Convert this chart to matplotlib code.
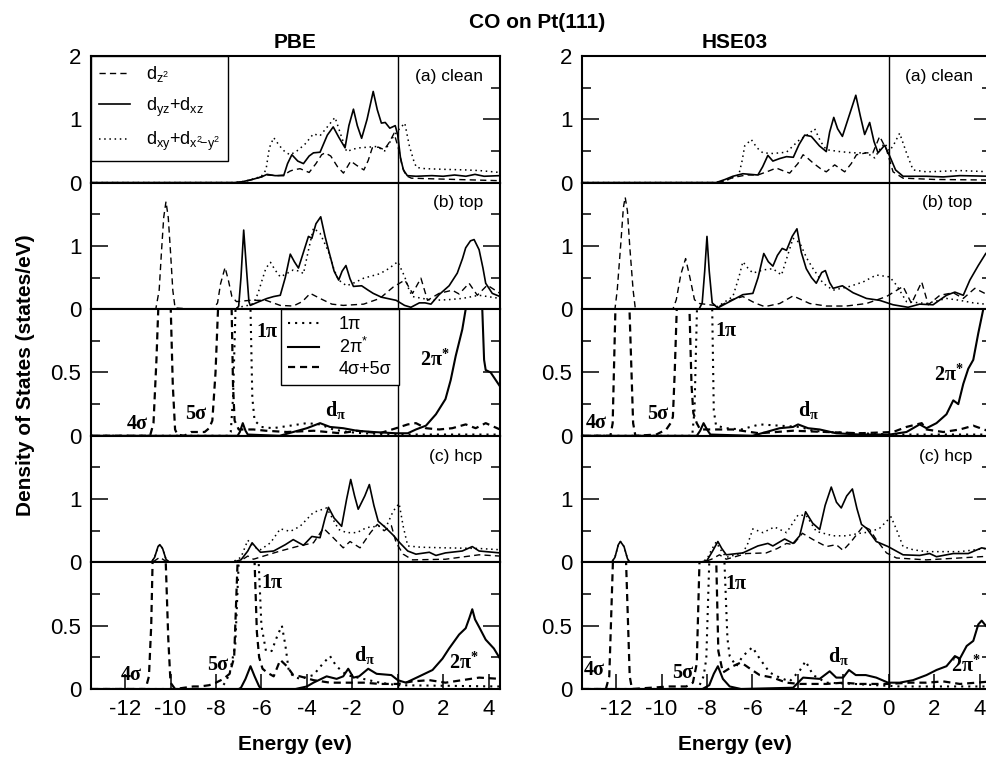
import matplotlib
matplotlib.use('Agg')
import matplotlib.pyplot as plt
from matplotlib.ticker import MultipleLocator

plt.rcParams['font.family'] = ['Liberation Sans', 'DejaVu Sans']
plt.rcParams['mathtext.fontset'] = 'custom'
plt.rcParams['mathtext.rm'] = 'Liberation Sans'
plt.rcParams['mathtext.it'] = 'Liberation Sans:italic'
plt.rcParams['mathtext.bf'] = 'Liberation Serif:bold'

# ---------------- data (energy eV, DOS) ----------------
PBE_A_DZ2 = [(-13.5,0),(-7.2,0),(-6.9,0.01),(-6.5,0.04),(-6.0,0.09),(-5.75,0.12),(-5.3,0.11),(-5.0,0.12),(-4.75,0.18),(-4.6,0.2),(-4.3,0.22),(-3.9,0.16),(-3.6,0.3),(-3.35,0.44),(-3.2,0.47),(-2.95,0.42),(-2.65,0.25),(-2.39,0.15),(-2.2,0.26),(-2.07,0.34),(-1.8,0.27),(-1.49,0.2),(-1.3,0.35),(-1.12,0.55),(-0.85,0.56),(-0.6,0.52),(-0.4,0.62),(-0.16,0.78),(0.06,0.5),(0.2,0.25),(0.36,0.11),(0.6,0.07),(1.5,0.06),(2.5,0.05),(3.5,0.04),(4.5,0.03)]
PBE_A_DYZ = [(-13.5,0),(-7.2,0),(-6.9,0.01),(-6.5,0.04),(-6.0,0.09),(-5.75,0.13),(-5.4,0.11),(-5.02,0.11),(-4.85,0.3),(-4.66,0.44),(-4.4,0.34),(-4.15,0.3),(-3.9,0.42),(-3.71,0.47),(-3.42,0.48),(-3.1,0.75),(-2.84,0.88),(-2.6,0.72),(-2.32,0.55),(-2.15,0.9),(-1.95,1.16),(-1.78,0.9),(-1.59,0.7),(-1.35,1.0),(-1.08,1.44),(-0.9,1.15),(-0.72,0.94),(-0.55,0.95),(-0.35,0.86),(-0.11,0.9),(0.0,0.75),(0.12,0.39),(0.25,0.2),(0.42,0.11),(0.8,0.1),(1.5,0.11),(2.0,0.1),(2.5,0.12),(3.0,0.1),(3.4,0.13),(3.8,0.1),(4.5,0.11)]
PBE_A_DXY = [(-13.5,0),(-7.2,0),(-6.9,0.01),(-6.5,0.04),(-6.0,0.1),(-5.8,0.2),(-5.65,0.55),(-5.46,0.71),(-5.2,0.58),(-4.95,0.48),(-4.73,0.44),(-4.44,0.5),(-4.1,0.6),(-3.71,0.77),(-3.42,0.74),(-3.1,0.88),(-2.76,1.03),(-2.5,0.75),(-2.25,0.49),(-1.95,0.53),(-1.66,0.55),(-1.3,0.56),(-0.93,0.57),(-0.57,0.5),(-0.28,0.68),(0.0,0.82),(0.31,0.94),(0.51,0.58),(0.7,0.35),(0.82,0.24),(1.2,0.22),(2.0,0.21),(3.0,0.2),(3.6,0.19),(4.5,0.16)]

PBE_B_DZ2 = [(-13.5,0),(-10.65,0),(-10.5,0.3),(-10.4,0.9),(-10.3,1.45),(-10.2,1.7),(-10.1,1.45),(-10.0,0.9),(-9.9,0.3),(-9.8,0.02),(-9.0,0),(-8.1,0.01),(-7.93,0.1),(-7.8,0.4),(-7.6,0.66),(-7.45,0.45),(-7.3,0.2),(-7.1,0.12),(-6.5,0.14),(-5.8,0.14),(-5.17,0.06),(-4.6,0.05),(-4.2,0.12),(-3.85,0.25),(-3.42,0.17),(-2.9,0.08),(-2.4,0.06),(-1.5,0.08),(-0.79,0.17),(-0.2,0.35),(0.31,0.46),(0.65,0.25),(1.02,0.49),(1.31,0.14),(1.82,0.25),(2.4,0.3),(2.7,0.24),(3.14,0.41),(3.5,0.22),(3.94,0.38),(4.5,0.25)]
PBE_B_DYZ = [(-13.5,0),(-7.1,0),(-7.0,0.05),(-6.9,0.5),(-6.78,1.25),(-6.65,0.6),(-6.55,0.12),(-6.49,0.06),(-6.1,0.12),(-5.75,0.17),(-5.46,0.2),(-5.17,0.22),(-4.95,0.5),(-4.73,0.87),(-4.55,0.75),(-4.37,0.65),(-4.15,0.9),(-3.93,1.15),(-3.78,1.12),(-3.6,1.35),(-3.39,1.46),(-3.2,1.15),(-3.05,0.94),(-2.8,0.6),(-2.6,0.46),(-2.45,0.6),(-2.28,0.69),(-2.1,0.48),(-1.95,0.36),(-1.59,0.37),(-1.3,0.3),(-1.08,0.25),(-0.72,0.19),(-0.07,0.14),(0.3,0.06),(0.58,0.03),(0.95,0.1),(1.2,0.1),(1.46,0.08),(1.82,0.23),(2.26,0.37),(2.62,0.57),(2.85,0.8),(2.99,0.97),(3.2,1.08),(3.36,1.1),(3.58,0.94),(3.75,0.65),(3.87,0.41),(4.16,0.25),(4.5,0.2)]
PBE_B_DXY = [(-13.5,0),(-7.3,0),(-7.0,0.03),(-6.6,0.06),(-6.35,0.09),(-6.15,0.25),(-5.97,0.46),(-5.8,0.65),(-5.6,0.74),(-5.4,0.62),(-5.17,0.51),(-4.9,0.56),(-4.6,0.62),(-4.3,0.6),(-4.15,0.56),(-3.95,0.9),(-3.71,1.28),(-3.42,1.2),(-3.05,0.91),(-2.8,0.62),(-2.6,0.46),(-2.25,0.37),(-1.9,0.42),(-1.5,0.49),(-0.79,0.56),(-0.4,0.64),(0.0,0.75),(0.31,0.51),(0.5,0.3),(0.65,0.2),(1.53,0.14),(2.2,0.15),(2.84,0.17),(3.58,0.22),(4.5,0.17)]

PBE_BC_SIG = [(-13.5,0),(-10.9,0),(-10.75,0.1),(-10.62,0.6),(-10.54,1.0),(-10.42,2.0),(-10.27,2.6),(-10.12,2.0),(-9.99,1.0),(-9.9,0.4),(-9.8,0.05),(-9.7,0.01),(-9.4,0.0),(-9.1,0.03),(-8.5,0.03),(-8.3,0.06),(-8.16,0.12),(-8.02,0.5),(-7.91,1.0),(-7.77,2.0),(-7.6,2.3),(-7.45,2.0),(-7.31,1.0),(-7.25,0.4),(-7.18,0.12),(-7.0,0.05),(-6.35,0.05),(-5.8,0.04),(-4.88,0.03),(-3.7,0.04),(-2.52,0.02),(-1.8,0.04),(-0.8,0.02),(-0.07,0.06),(0.44,0.09),(0.8,0.1),(1.24,0.06),(1.82,0.05),(2.4,0.06),(2.99,0.09),(3.43,0.06),(3.87,0.1),(4.5,0.05)]
PBE_BC_1PI = [(-13.5,0),(-7.45,0),(-7.35,0.03),(-7.25,0.3),(-7.14,1.0),(-6.98,2.0),(-6.81,2.3),(-6.64,2.0),(-6.48,1.0),(-6.4,0.3),(-6.3,0.12),(-6.0,0.07),(-5.5,0.06),(-4.73,0.08),(-4.0,0.1),(-3.42,0.09),(-2.84,0.05),(-2.2,0.03),(-1.5,0.02),(-0.07,0.01),(4.5,0.01)]
PBE_BC_2PI = [(-13.5,0),(-7.05,0),(-6.95,0.03),(-6.82,0.1),(-6.7,0.04),(-6.6,0.01),(-5.2,0.0),(-4.6,0.03),(-4.0,0.06),(-3.42,0.1),(-2.98,0.07),(-2.4,0.06),(-1.8,0.04),(-1.08,0.03),(-0.07,0.02),(0.44,0.02),(0.8,0.05),(1.24,0.08),(1.68,0.17),(2.1,0.29),(2.33,0.44),(2.55,0.63),(2.84,0.84),(2.99,1.0),(3.15,1.3),(3.35,1.6),(3.55,1.35),(3.72,1.0),(3.8,0.6),(3.87,0.52),(4.09,0.5),(4.5,0.39)]

PBE_C_DZ2 = [(-13.5,0),(-10.8,0),(-10.6,0.05),(-10.47,0.08),(-10.3,0.04),(-10.1,0),(-7.2,0),(-6.9,0.03),(-6.6,0.1),(-6.35,0.05),(-5.9,0.1),(-5.17,0.18),(-4.44,0.25),(-3.71,0.31),(-3.27,0.54),(-2.84,0.39),(-2.4,0.23),(-2.1,0.33),(-1.66,0.23),(-1.2,0.47),(-0.9,0.6),(-0.6,0.5),(-0.4,0.55),(-0.28,0.58),(-0.07,0.31),(0.24,0.13),(0.65,0.04),(2.1,0.05),(3.58,0.12),(4.5,0.1)]
PBE_C_DYZ = [(-13.5,0),(-10.85,0),(-10.7,0.08),(-10.55,0.25),(-10.47,0.28),(-10.35,0.22),(-10.2,0.05),(-10.05,0),(-7.3,0),(-6.9,0.04),(-6.6,0.18),(-6.41,0.31),(-6.2,0.22),(-6.04,0.16),(-5.46,0.18),(-4.95,0.28),(-4.6,0.36),(-4.15,0.27),(-3.78,0.41),(-3.42,0.39),(-3.2,0.7),(-3.05,0.87),(-2.8,0.7),(-2.47,0.57),(-2.25,1.0),(-2.07,1.31),(-1.9,1.05),(-1.74,0.84),(-1.45,1.05),(-1.25,1.23),(-1.05,0.9),(-0.86,0.65),(-0.57,0.56),(-0.2,0.43),(0.09,0.31),(0.44,0.18),(0.8,0.13),(1.39,0.16),(1.68,0.11),(2.1,0.15),(2.84,0.18),(3.28,0.25),(3.58,0.18),(4.5,0.15)]
PBE_C_DXY = [(-13.5,0),(-10.85,0),(-10.7,0.08),(-10.55,0.25),(-10.47,0.28),(-10.35,0.22),(-10.2,0.05),(-10.05,0),(-7.3,0),(-6.9,0.08),(-6.6,0.35),(-6.35,0.25),(-6.04,0.2),(-5.6,0.31),(-5.17,0.53),(-4.73,0.49),(-4.3,0.57),(-3.71,0.79),(-3.13,0.86),(-2.6,0.52),(-2.25,0.47),(-1.8,0.47),(-1.37,0.55),(-0.93,0.57),(-0.5,0.57),(-0.2,0.81),(0.06,0.93),(0.24,0.57),(0.44,0.26),(1.0,0.24),(2.1,0.23),(3.58,0.22),(4.5,0.2)]

PBE_CC_SIG = [(-13.5,0),(-11.1,0),(-10.95,0.1),(-10.85,0.5),(-10.79,1.0),(-10.65,2.2),(-10.5,2.6),(-10.35,2.2),(-10.21,1.0),(-10.1,0.4),(-10.0,0.05),(-9.8,0),(-9.0,0.02),(-8.7,0.02),(-8.3,0.03),(-8.0,0.05),(-7.67,0.08),(-7.4,0.12),(-7.2,0.25),(-7.05,1.0),(-6.9,2.0),(-6.65,2.4),(-6.45,2.0),(-6.3,1.0),(-6.2,0.45),(-6.1,0.25),(-5.95,0.16),(-5.75,0.13),(-5.46,0.1),(-5.17,0.23),(-4.88,0.18),(-4.6,0.11),(-4.3,0.1),(-3.71,0.07),(-2.98,0.05),(-2.25,0.05),(-1.5,0.05),(-0.79,0.04),(0.0,0.04),(0.65,0.06),(1.39,0.07),(2.1,0.05),(2.84,0.07),(3.58,0.09),(4.5,0.08)]
PBE_CC_1PI = [(-13.5,0),(-7.8,0),(-7.6,0.05),(-7.4,0.12),(-7.15,0.35),(-7.0,1.0),(-6.8,2.0),(-6.55,2.4),(-6.3,2.0),(-6.12,1.0),(-6.0,0.5),(-5.8,0.3),(-5.55,0.3),(-5.3,0.42),(-5.1,0.5),(-4.95,0.35),(-4.8,0.15),(-4.6,0.1),(-4.3,0.08),(-3.71,0.11),(-3.3,0.2),(-2.98,0.26),(-2.7,0.18),(-2.25,0.11),(-1.52,0.08),(-0.79,0.05),(0.0,0.03),(4.5,0.02)]
PBE_CC_2PI = [(-13.5,0),(-7.0,0),(-6.9,0.01),(-6.7,0.08),(-6.48,0.18),(-6.3,0.1),(-6.1,0.02),(-6.0,0.0),(-4.5,0.0),(-4.0,0.02),(-3.71,0.05),(-3.13,0.1),(-2.69,0.08),(-2.4,0.1),(-2.18,0.16),(-1.95,0.09),(-1.7,0.1),(-1.3,0.16),(-0.93,0.12),(-0.28,0.11),(0.0,0.07),(0.36,0.05),(0.95,0.1),(1.53,0.15),(1.97,0.24),(2.26,0.32),(2.7,0.43),(2.99,0.48),(3.15,0.56),(3.28,0.63),(3.4,0.55),(3.58,0.49),(3.87,0.39),(4.23,0.32),(4.5,0.24)]

HSE_A_DZ2 = [(-13.5,0),(-7.6,0),(-7.2,0.03),(-6.86,0.08),(-6.27,0.12),(-5.76,0.12),(-5.3,0.18),(-4.95,0.23),(-4.6,0.18),(-4.36,0.15),(-4.0,0.3),(-3.77,0.44),(-3.55,0.38),(-3.33,0.31),(-3.0,0.22),(-2.75,0.17),(-2.38,0.28),(-1.94,0.17),(-1.65,0.3),(-1.42,0.44),(-0.98,0.47),(-0.7,0.47),(-0.4,0.73),(-0.1,0.52),(0.19,0.17),(0.63,0.07),(2.0,0.05),(4.5,0.04)]
HSE_A_DYZ = [(-13.5,0),(-7.6,0),(-7.2,0.05),(-6.86,0.1),(-6.42,0.14),(-5.76,0.12),(-5.55,0.25),(-5.32,0.43),(-5.1,0.34),(-4.8,0.38),(-4.5,0.41),(-4.2,0.4),(-3.95,0.6),(-3.7,0.75),(-3.41,0.73),(-3.05,0.58),(-2.75,0.49),(-2.6,0.8),(-2.42,1.03),(-2.25,0.85),(-2.04,0.73),(-1.75,1.05),(-1.45,1.38),(-1.25,1.05),(-1.06,0.76),(-0.84,0.95),(-0.65,0.65),(-0.47,0.47),(-0.18,0.59),(0.04,0.42),(0.3,0.2),(0.63,0.1),(1.66,0.1),(2.4,0.09),(3.13,0.11),(4.5,0.1)]
HSE_A_DXY = [(-13.5,0),(-7.6,0),(-7.2,0.03),(-6.86,0.08),(-6.6,0.12),(-6.45,0.35),(-6.34,0.58),(-6.05,0.68),(-5.8,0.55),(-5.54,0.47),(-5.1,0.46),(-4.5,0.48),(-3.92,0.68),(-3.6,0.75),(-3.26,0.85),(-3.0,0.65),(-2.75,0.52),(-2.16,0.49),(-1.57,0.47),(-0.98,0.47),(-0.62,0.39),(-0.35,0.55),(-0.18,0.62),(0.04,0.5),(0.25,0.62),(0.48,0.78),(0.78,0.47),(1.07,0.2),(1.66,0.17),(3.13,0.19),(4.5,0.17)]

HSE_B_DZ2 = [(-13.5,0),(-12.05,0),(-11.95,0.3),(-11.8,1.0),(-11.68,1.6),(-11.6,1.77),(-11.5,1.55),(-11.4,1.0),(-11.25,0.3),(-11.15,0),(-9.5,0),(-9.35,0.15),(-9.15,0.55),(-8.94,0.8),(-8.75,0.5),(-8.55,0.15),(-8.33,0.09),(-7.45,0.05),(-6.9,0.15),(-6.42,0.2),(-5.9,0.1),(-5.46,0.04),(-4.8,0.09),(-4.21,0.21),(-3.48,0.09),(-2.75,0.05),(-1.87,0.05),(-0.98,0.09),(-0.1,0.2),(0.63,0.36),(1.0,0.09),(1.45,0.43),(1.74,0.07),(2.25,0.22),(2.84,0.26),(3.28,0.17),(3.79,0.33),(4.5,0.2)]
HSE_B_DYZ = [(-13.5,0),(-8.35,0),(-8.21,0.1),(-8.1,0.6),(-8.0,1.15),(-7.9,0.6),(-7.77,0.1),(-7.53,0.02),(-7.0,0.12),(-6.42,0.23),(-5.98,0.25),(-5.75,0.5),(-5.5,0.88),(-5.3,0.75),(-5.1,0.68),(-4.9,0.85),(-4.69,0.96),(-4.5,0.93),(-4.25,1.15),(-4.04,1.27),(-3.85,0.9),(-3.63,0.64),(-3.4,0.5),(-3.19,0.41),(-2.95,0.58),(-2.79,0.61),(-2.6,0.42),(-2.45,0.33),(-2.04,0.37),(-1.57,0.26),(-0.98,0.17),(-0.4,0.14),(0.19,0.07),(0.85,0.03),(1.36,0.08),(1.95,0.07),(2.54,0.22),(2.91,0.27),(3.28,0.22),(3.57,0.46),(3.94,0.69),(4.27,0.88),(4.5,0.95)]
HSE_B_DXY = [(-13.5,0),(-7.8,0),(-7.45,0.06),(-6.86,0.2),(-6.6,0.5),(-6.42,0.75),(-6.2,0.65),(-5.98,0.57),(-5.54,0.62),(-5.1,0.64),(-4.72,0.54),(-4.45,0.85),(-4.21,1.12),(-3.92,1.05),(-3.6,0.8),(-3.33,0.64),(-2.89,0.41),(-2.45,0.3),(-1.72,0.36),(-1.13,0.43),(-0.55,0.54),(0.04,0.51),(0.34,0.38),(0.78,0.12),(1.66,0.09),(2.54,0.17),(3.13,0.14),(3.72,0.1),(4.5,0.07)]

HSE_BC_SIG = [(-13.5,0),(-12.25,0),(-12.15,0.1),(-12.03,1.0),(-11.9,2.2),(-11.72,2.6),(-11.55,2.2),(-11.41,1.0),(-11.25,0.1),(-11.15,0),(-10.23,0.01),(-9.79,0.05),(-9.6,0.1),(-9.5,0.15),(-9.42,0.5),(-9.33,1.0),(-9.17,2.0),(-9.05,2.3),(-8.92,2.0),(-8.77,1.0),(-8.68,0.4),(-8.6,0.18),(-8.45,0.1),(-8.3,0.05),(-7.73,0.05),(-6.86,0.05),(-5.7,0.02),(-4.21,0.04),(-2.75,0.03),(-1.28,0.02),(0.19,0.03),(0.78,0.07),(1.45,0.1),(1.66,0.05),(2.4,0.03),(3.13,0.05),(3.72,0.08),(4.5,0.03)]
HSE_BC_1PI = [(-13.5,0),(-8.65,0),(-8.55,0.2),(-8.44,1.0),(-8.27,2.0),(-8.1,2.3),(-7.93,2.0),(-7.77,1.0),(-7.7,0.2),(-7.6,0.08),(-7.15,0.06),(-6.5,0.05),(-5.68,0.09),(-4.8,0.08),(-3.92,0.07),(-3.33,0.04),(-2.75,0.03),(-1.28,0.02),(0.19,0.01),(4.5,0.01)]
HSE_BC_2PI = [(-13.5,0),(-8.45,0),(-8.3,0.04),(-8.15,0.1),(-8.0,0.05),(-7.85,0.01),(-6.0,0.0),(-5.39,0.03),(-4.8,0.06),(-4.21,0.07),(-3.99,0.09),(-3.55,0.06),(-3.04,0.05),(-2.31,0.02),(-1.28,0.01),(0.04,0.01),(0.78,0.03),(1.36,0.09),(1.66,0.06),(2.1,0.1),(2.54,0.17),(2.84,0.28),(3.06,0.25),(3.28,0.41),(3.5,0.53),(3.72,0.6),(3.94,0.81),(4.16,1.0),(4.5,1.2)]

HSE_C_DZ2 = [(-13.5,0),(-8.2,0),(-7.8,0.05),(-7.45,0.12),(-7.15,0.05),(-6.27,0.14),(-5.39,0.15),(-4.9,0.22),(-4.5,0.3),(-4.21,0.28),(-3.8,0.46),(-3.33,0.36),(-2.75,0.25),(-2.31,0.28),(-2.01,0.19),(-1.65,0.33),(-1.13,0.57),(-0.84,0.52),(-0.55,0.36),(-0.1,0.15),(0.34,0.07),(1.66,0.04),(3.13,0.07),(4.5,0.1)]
HSE_C_DYZ = [(-13.5,0),(-12.2,0),(-12.05,0.08),(-11.9,0.28),(-11.81,0.33),(-11.65,0.25),(-11.5,0.06),(-11.4,0),(-8.3,0),(-8.0,0.03),(-7.75,0.18),(-7.52,0.33),(-7.35,0.22),(-7.15,0.12),(-6.42,0.15),(-5.76,0.26),(-5.32,0.3),(-5.1,0.26),(-4.58,0.37),(-4.21,0.3),(-3.92,0.42),(-3.66,0.8),(-3.35,0.62),(-3.04,0.52),(-2.8,0.9),(-2.53,1.19),(-2.3,0.95),(-2.09,0.86),(-1.85,1.05),(-1.6,1.16),(-1.4,0.85),(-1.2,0.6),(-0.98,0.54),(-0.55,0.33),(-0.03,0.25),(0.63,0.12),(1.36,0.11),(1.8,0.14),(2.1,0.09),(2.84,0.14),(3.5,0.14),(4.09,0.23),(4.5,0.2)]
HSE_C_DXY = [(-13.5,0),(-12.2,0),(-12.05,0.08),(-11.9,0.28),(-11.81,0.33),(-11.65,0.25),(-11.5,0.06),(-11.4,0),(-8.3,0),(-8.0,0.05),(-7.8,0.2),(-7.6,0.32),(-7.4,0.2),(-7.15,0.08),(-6.42,0.15),(-6.2,0.3),(-5.98,0.53),(-5.54,0.47),(-5.03,0.56),(-4.5,0.47),(-3.99,0.75),(-3.63,0.74),(-3.19,0.49),(-2.45,0.42),(-1.87,0.42),(-1.28,0.46),(-0.84,0.48),(-0.4,0.54),(0.1,0.72),(0.34,0.52),(0.63,0.25),(1.07,0.2),(1.66,0.17),(3.13,0.17),(4.5,0.23)]

HSE_CC_SIG = [(-13.5,0),(-12.45,0),(-12.3,0.1),(-12.14,1.0),(-12.0,2.2),(-11.85,2.6),(-11.7,2.2),(-11.56,1.0),(-11.4,0.1),(-11.3,0),(-9.65,0.02),(-8.91,0.02),(-8.62,0.05),(-8.45,0.2),(-8.33,1.0),(-8.15,2.0),(-7.95,2.4),(-7.75,2.0),(-7.59,1.0),(-7.5,0.3),(-7.3,0.13),(-6.86,0.18),(-6.5,0.21),(-6.1,0.16),(-5.68,0.11),(-5.1,0.09),(-4.5,0.05),(-3.92,0.04),(-2.75,0.04),(-2.01,0.05),(-1.28,0.04),(-0.03,0.04),(0.93,0.05),(1.66,0.05),(2.4,0.06),(3.13,0.04),(3.87,0.05),(4.5,0.06)]
HSE_CC_1PI = [(-13.5,0),(-8.4,0),(-8.15,0.1),(-8.03,0.24),(-7.9,1.0),(-7.7,2.0),(-7.52,2.3),(-7.35,2.0),(-7.23,1.0),(-7.1,0.4),(-7.0,0.26),(-6.71,0.18),(-6.42,0.26),(-6.0,0.33),(-5.68,0.24),(-5.24,0.13),(-4.8,0.09),(-4.36,0.06),(-3.9,0.15),(-3.66,0.22),(-3.33,0.11),(-2.75,0.05),(-1.5,0.04),(-0.55,0.03),(0.5,0.02),(4.5,0.02)]
HSE_CC_2PI = [(-13.5,0),(-8.2,0),(-7.9,0.03),(-7.7,0.12),(-7.52,0.18),(-7.3,0.08),(-7.0,0.02),(-6.5,0.0),(-4.21,0.01),(-3.99,0.05),(-3.77,0.09),(-3.04,0.08),(-2.6,0.14),(-2.31,0.09),(-2.01,0.09),(-1.75,0.15),(-1.45,0.11),(-1.01,0.11),(-0.55,0.09),(-0.03,0.05),(0.48,0.05),(1.07,0.07),(1.66,0.11),(2.1,0.15),(2.54,0.18),(2.91,0.26),(3.13,0.24),(3.43,0.34),(3.72,0.38),(3.94,0.51),(4.09,0.54),(4.27,0.5),(4.5,0.46)]

D_LABELS = [r'$\mathrm{d_{z^2}}$', r'$\mathrm{d_{yz}{+}d_{xz}}$', r'$\mathrm{d_{xy}{+}d_{x^2\!{-}y^2}}$']
CO_LABELS = ['1π', r'$\mathrm{2\pi^{*}}$', '4σ+5σ']
PANEL_TAGS = ['(a) clean', '(b) top', None, '(c) hcp', None]
COL_TITLES = ['PBE', 'HSE03']
X_TICKS = [-12, -10, -8, -6, -4, -2, 0, 2, 4]
D_YTICKS = [0, 1, 2]
CO_YTICKS = [0, 0.5, 1]

# ---------------- figure ----------------
W, H = 986, 758
fig = plt.figure(figsize=(W / 100, H / 100), dpi=100)

COL_LEFT = [91, 582]
AX_W = 409
TOP = 56
PH = 126.6

DASH_D = (0, (4.5, 3.0))
DOT = (0, (1.0, 2.4))
DASH_CO = (0, (3.2, 2.2))

columns = [
    dict(panels=[(PBE_A_DZ2, PBE_A_DYZ, PBE_A_DXY), (PBE_B_DZ2, PBE_B_DYZ, PBE_B_DXY),
                 (PBE_BC_1PI, PBE_BC_2PI, PBE_BC_SIG),
                 (PBE_C_DZ2, PBE_C_DYZ, PBE_C_DXY), (PBE_CC_1PI, PBE_CC_2PI, PBE_CC_SIG)]),
    dict(panels=[(HSE_A_DZ2, HSE_A_DYZ, HSE_A_DXY), (HSE_B_DZ2, HSE_B_DYZ, HSE_B_DXY),
                 (HSE_BC_1PI, HSE_BC_2PI, HSE_BC_SIG),
                 (HSE_C_DZ2, HSE_C_DYZ, HSE_C_DXY), (HSE_CC_1PI, HSE_CC_2PI, HSE_CC_SIG)]),
]

# annotation positions (E, DOS) for orbital labels in the CO panels
ANNOT = {
    (0, 2): [('4σ', -11.45, 0.09), ('5σ', -8.9, 0.17), ('1π', -5.75, 0.82),
             (r'$\mathbf{d_{\pi}}$', -2.75, 0.2), (r'$\mathbf{2\pi^{*}}$', 1.65, 0.6)],
    (0, 4): [('4σ', -11.74, 0.11), ('5σ', -7.94, 0.19), ('1π', -5.53, 0.84),
             (r'$\mathbf{d_{\pi}}$', -1.45, 0.27), (r'$\mathbf{2\pi^{*}}$', 2.9, 0.2)],
    (1, 2): [('4σ', -12.88, 0.1), ('5σ', -10.17, 0.17), ('1π', -7.15, 0.83),
             (r'$\mathbf{d_{\pi}}$', -3.55, 0.2), (r'$\mathbf{2\pi^{*}}$', 2.65, 0.48)],
    (1, 4): [('4σ', -12.95, 0.15), ('5σ', -9.07, 0.13), ('1π', -6.71, 0.83),
             (r'$\mathbf{d_{\pi}}$', -2.2, 0.26), (r'$\mathbf{2\pi^{*}}$', 3.4, 0.18)],
}

def xy(data):
    return [p[0] for p in data], [p[1] for p in data]

for ci, col in enumerate(columns):
    for k in range(5):
        y0 = TOP + PH * k
        ax = fig.add_axes([COL_LEFT[ci] / W, 1 - (y0 + PH) / H, AX_W / W, PH / H])
        ax.set_xlim(-13.5, 4.5)
        is_co = k in (2, 4)
        curves = col['panels'][k]
        if not is_co:
            ax.set_ylim(0, 2)
            dz2, dyz, dxy = curves
            l1, = ax.plot(*xy(dz2), color='k', lw=1.0, ls=DASH_D)
            l2, = ax.plot(*xy(dyz), color='k', lw=1.2, ls='-')
            l3, = ax.plot(*xy(dxy), color='k', lw=1.1, ls=DOT)
            ax.set_yticks(D_YTICKS)
            ax.set_yticklabels(['0', '1', '2'] if k == 0 else ['0', '1', ''])
            ax.yaxis.set_minor_locator(MultipleLocator(0.5))
            if ci == 0 and k == 0:
                leg = ax.legend([l1, l2, l3], D_LABELS, loc='upper left', bbox_to_anchor=(0, 1),
                                borderaxespad=0, fontsize=13, handlelength=1.7, handletextpad=0.9,
                                labelspacing=0.62, borderpad=0.45, fancybox=False, framealpha=1)
                leg.get_frame().set_edgecolor('k')
                leg.get_frame().set_linewidth(1.0)
        else:
            ax.set_ylim(0, 1)
            p1, p2, sig = curves
            m1, = ax.plot(*xy(p1), color='k', lw=1.5, ls=DOT)
            m2, = ax.plot(*xy(p2), color='k', lw=1.5, ls='-')
            m3, = ax.plot(*xy(sig), color='k', lw=1.6, ls=DASH_CO)
            ax.set_yticks(CO_YTICKS)
            ax.set_yticklabels(['0', '0.5', ''])
            ax.yaxis.set_minor_locator(MultipleLocator(0.25))
            if ci == 0 and k == 2:
                leg = ax.legend([m1, m2, m3], CO_LABELS, loc='upper left', bbox_to_anchor=(0.465, 1),
                                borderaxespad=0, fontsize=13, handlelength=1.7, handletextpad=1.1,
                                labelspacing=0.2, borderpad=0.4, fancybox=False, framealpha=1)
                leg.get_frame().set_edgecolor('k')
                leg.get_frame().set_linewidth(1.0)
            for (txt, ex, ey) in ANNOT[(ci, k)]:
                ax.text(ex, ey, txt, family='Liberation Serif', weight='bold', fontsize=14.5,
                        ha='center', va='center')
        ax.axvline(0, color='k', lw=1.0, zorder=0.5)
        ax.tick_params(axis='y', which='major', direction='in', left=True, right=True,
                       length=12, width=1.1, labelsize=16, pad=7)
        ax.tick_params(axis='y', which='minor', direction='in', left=True, right=True,
                       length=6.5, width=1.1)
        if k == 4:
            ax.set_xticks(X_TICKS)
            ax.set_xticklabels([str(v) for v in X_TICKS])
            ax.tick_params(axis='x', direction='in', length=11, width=1.1, labelsize=16, pad=7)
        else:
            ax.set_xticks([])
        for sp in ax.spines.values():
            sp.set_linewidth(1.5)
        if PANEL_TAGS[k]:
            ax.text(0.958 if ci == 0 else 0.955, 0.84, PANEL_TAGS[k], transform=ax.transAxes,
                    ha='right', va='center', fontsize=12.5)

fig.text(537 / W, 1 - 22 / H, 'CO on Pt(111)', ha='center', va='center', fontsize=15, fontweight='bold')
fig.text(295 / W, 1 - 42 / H, COL_TITLES[0], ha='center', va='center', fontsize=15, fontweight='bold')
fig.text(735 / W, 1 - 42 / H, COL_TITLES[1], ha='center', va='center', fontsize=15, fontweight='bold')
fig.text(295 / W, 1 - 744 / H, 'Energy (ev)', ha='center', va='center', fontsize=15, fontweight='bold')
fig.text(735 / W, 1 - 744 / H, 'Energy (ev)', ha='center', va='center', fontsize=15, fontweight='bold')
fig.text(26 / W, 1 - 375 / H, 'Density of States (states/eV)', rotation=90, ha='center', va='center',
         fontsize=15, fontweight='bold')

fig.savefig('out.png', dpi=100)
